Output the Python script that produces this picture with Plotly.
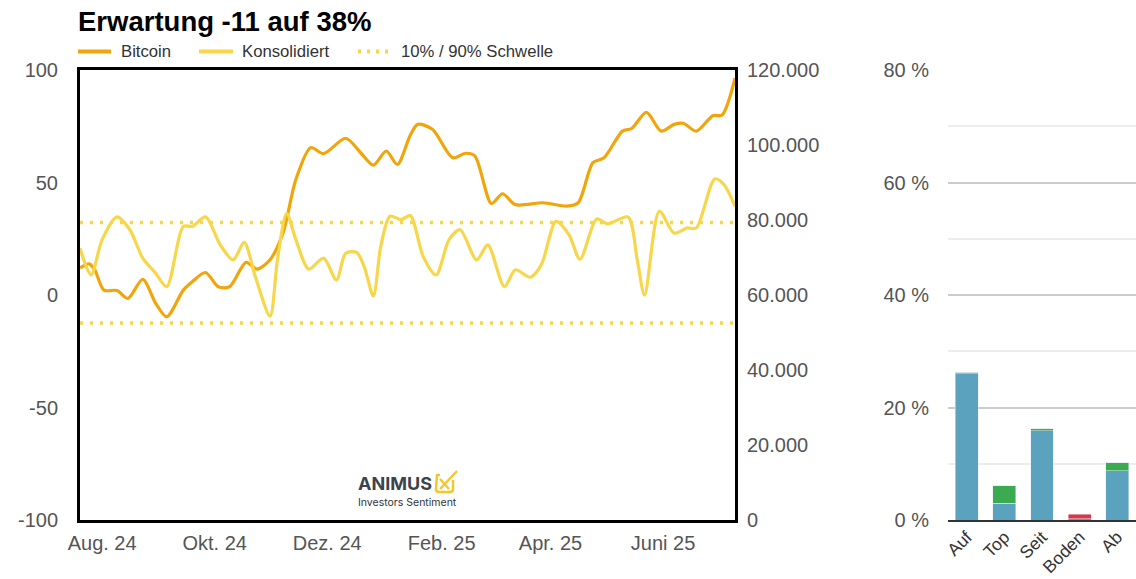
import plotly.graph_objects as go

# --- Daten -----------------------------------------------------------------
btc_dates = [
    "2024-07-20", "2024-07-25", "2024-07-28", "2024-08-02", "2024-08-09",
    "2024-08-15", "2024-08-23", "2024-08-30", "2024-09-05", "2024-09-14",
    "2024-09-19", "2024-09-26", "2024-10-03", "2024-10-09", "2024-10-18",
    "2024-10-24", "2024-10-31", "2024-11-07", "2024-11-14", "2024-11-22",
    "2024-11-29", "2024-12-11", "2024-12-19", "2024-12-26", "2025-01-02",
    "2025-01-08", "2025-01-15", "2025-01-19", "2025-01-27", "2025-02-07",
    "2025-02-14", "2025-02-19", "2025-02-28", "2025-03-06", "2025-03-13",
    "2025-03-28", "2025-04-10", "2025-04-16", "2025-04-24", "2025-04-30",
    "2025-05-10", "2025-05-15", "2025-05-23", "2025-05-31", "2025-06-07",
    "2025-06-12", "2025-06-19", "2025-06-28", "2025-07-03", "2025-07-10",
]
btc_price = [
    67200, 68300, 66700, 61300, 61200,
    59100, 64200, 57800, 54200, 61300,
    63600, 66000, 62200, 62200, 68700,
    66900, 69400, 76500, 90800, 99300,
    97700, 101800, 98000, 94600, 98400,
    94800, 102600, 105500, 104200, 96600,
    97800, 97100, 84400, 87000, 84100,
    84600, 83700, 84600, 95300, 96600,
    103700, 104400, 108700, 103700, 105500,
    105800, 103700, 107800, 108000, 117800,
]

sent_dates = [
    "2024-07-20", "2024-07-26", "2024-08-01", "2024-08-09", "2024-08-16",
    "2024-08-23", "2024-08-30", "2024-09-05", "2024-09-14", "2024-09-19",
    "2024-09-26", "2024-10-04", "2024-10-11", "2024-10-17", "2024-10-23",
    "2024-10-31", "2024-11-04", "2024-11-09", "2024-11-14", "2024-11-21",
    "2024-11-29", "2024-12-06", "2024-12-11", "2024-12-17", "2024-12-21",
    "2024-12-26", "2024-12-30", "2025-01-04", "2025-01-10", "2025-01-15",
    "2025-01-22", "2025-01-29", "2025-02-05", "2025-02-11", "2025-02-20",
    "2025-02-26", "2025-03-07", "2025-03-13", "2025-03-21", "2025-03-27",
    "2025-04-04", "2025-04-11", "2025-04-17", "2025-04-26", "2025-05-02",
    "2025-05-13", "2025-05-18", "2025-05-22", "2025-05-30", "2025-06-07",
    "2025-06-14", "2025-06-19", "2025-06-29", "2025-07-04", "2025-07-10",
]
sent_value = [
    20.8, 8.9, 24.6, 34.7, 29.0,
    16.4, 9.7, 3.7, 30.5, 30.5,
    34.7, 22.3, 15.6, 23.4, 8.2,
    -9.4, 15.6, 36.2, 24.6, 11.5,
    16.4, 6.7, 18.6, 18.9, 12.6,
    -0.4, 21.6, 35.0, 33.5, 35.3,
    17.1, 8.9, 24.6, 29.0, 15.6,
    22.3, 3.7, 11.2, 7.9, 13.4,
    32.7, 26.8, 15.9, 33.8, 31.6,
    34.7, 15.6, 0.0, 37.2, 27.5,
    29.8, 29.8, 51.6, 49.1, 39.4,
]

threshold_upper = 32.2
threshold_lower = -12.4

month_ticks = ["2024-08-01", "2024-10-01", "2024-12-01",
               "2025-02-01", "2025-04-01", "2025-06-01"]
month_labels = ["Aug. 24", "Okt. 24", "Dez. 24", "Feb. 25", "Apr. 25", "Juni 25"]

sent_ticks = [-100, -50, 0, 50, 100]
price_ticks = [0, 20000, 40000, 60000, 80000, 100000, 120000]
price_labels = ["0", "20.000", "40.000", "60.000", "80.000", "100.000", "120.000"]

phases = ["Auf", "Top", "Seit", "Boden", "Ab"]
phase_base = [26.0, 3.0, 15.9, 0.2, 8.75]
phase_plus = [0.3, 3.1, 0.35, 0.0, 1.45]
phase_minus = [0.0, 0.0, 0.0, 0.85, 0.0]
pct_ticks = [0, 20, 40, 60, 80]

# --- Farben / Layout ----------------------------------------------------------
C_BTC = "#F2A50A"
C_SENT = "#F7D64A"
C_BLUE = "#5BA2BF"
C_GREEN = "#3BAA50"
C_RED = "#DC3545"
FONT = "Liberation Sans, Arial, sans-serif"
TICK_C = "#555555"

W, H = 1136, 579
ML, MR, MT, MB = 80, 0, 70, 59
PW = W - ML - MR
PH = H - MT - MB


def px(x):
    return (x - ML) / PW


def py(y):
    return (H - MB - y) / PH


fig = go.Figure()

# Bitcoin-Kurs (rechte Achse)
fig.add_trace(go.Scatter(
    x=btc_dates, y=btc_price, name="Bitcoin", mode="lines",
    line=dict(color=C_BTC, width=3.2, shape="spline", smoothing=0.8),
    xaxis="x", yaxis="y", showlegend=False,
))

# Schwellen
for lvl in (threshold_upper, threshold_lower):
    fig.add_trace(go.Scatter(
        x=[sent_dates[0], sent_dates[-1]], y=[lvl, lvl], mode="lines",
        line=dict(color=C_SENT, width=3.5, dash="3px,7px"),
        xaxis="x", yaxis="y2", showlegend=False,
    ))

# Konsolidiertes Sentiment (linke Achse)
fig.add_trace(go.Scatter(
    x=sent_dates, y=sent_value, name="Konsolidiert", mode="lines",
    line=dict(color=C_SENT, width=3.2, shape="spline", smoothing=0.8),
    xaxis="x", yaxis="y2", showlegend=False,
))

# Marktphasen
fig.add_trace(go.Bar(x=phases, y=phase_base, marker_color=C_BLUE,
                     xaxis="x2", yaxis="y3", showlegend=False))
fig.add_trace(go.Bar(x=phases, y=phase_plus, marker_color=C_GREEN,
                     xaxis="x2", yaxis="y3", showlegend=False))
fig.add_trace(go.Bar(x=phases, y=phase_minus, marker_color=C_RED,
                     xaxis="x2", yaxis="y3", showlegend=False))

tickfont = dict(family=FONT, size=20, color=TICK_C)

fig.update_layout(
    width=W, height=H,
    margin=dict(l=ML, r=MR, t=MT, b=MB),
    paper_bgcolor="white", plot_bgcolor="white",
    barmode="stack", bargap=0.39,
    font=dict(family=FONT),
    xaxis=dict(
        domain=[0, px(735)], type="date", automargin=False,
        range=[sent_dates[0], sent_dates[-1]],
        tickvals=month_ticks, ticktext=month_labels,
        tickfont=tickfont, ticks="", ticklabelstandoff=3,
        showgrid=False, zeroline=False,
        showline=True, mirror=True, linecolor="#000", linewidth=3,
    ),
    yaxis=dict(
        side="right", range=[0, 120000], automargin=False,
        tickvals=price_ticks, ticktext=price_labels,
        tickfont=tickfont, ticks="", ticklabelstandoff=5,
        showgrid=False, zeroline=False,
        showline=True, mirror=True, linecolor="#000", linewidth=3,
    ),
    yaxis2=dict(
        overlaying="y", side="left", range=[-100, 100], automargin=False,
        tickvals=sent_ticks, ticktext=[str(v) for v in sent_ticks],
        tickfont=tickfont, ticks="", ticklabelstandoff=21,
        showgrid=False, zeroline=False, showline=False,
    ),
    xaxis2=dict(
        domain=[px(948), 1], anchor="y3", automargin=False,
        tickfont=dict(family=FONT, size=17.5, color="#333"),
        tickangle=-45, ticks="", ticklabelstandoff=-2,
        showgrid=False, zeroline=False,
        showline=True, linecolor="#333", linewidth=2,
    ),
    yaxis3=dict(
        anchor="x2", range=[0, 80], automargin=False,
        tickvals=pct_ticks, ticktext=[f"{v} %" for v in pct_ticks],
        tickfont=tickfont, ticks="", ticklabelstandoff=18,
        showgrid=True, gridcolor="#cccccc", gridwidth=2,
        minor=dict(tickvals=[10, 30, 50, 70], showgrid=True,
                   gridcolor="#ededed", gridwidth=2),
        zeroline=False, showline=False,
    ),
)

annotations = []
shapes = []

# Titel
annotations.append(dict(
    xref="paper", yref="paper", x=px(76), y=py(22),
    xanchor="left", yanchor="middle", showarrow=False,
    text="<b>Erwartung -11 auf 38%</b>",
    font=dict(family=FONT, size=27.5, color="#000"),
))

# Legende
legend_items = [
    ("Bitcoin", C_BTC, None, 78, 111, 119),
    ("Konsolidiert", C_SENT, None, 199, 233, 240),
    ("10% / 90% Schwelle", C_SENT, "3px,6px", 358, 393, 399),
]
for label, col, dash, x0, x1, xt in legend_items:
    shapes.append(dict(
        type="line", xref="paper", yref="paper",
        x0=px(x0), x1=px(x1), y0=py(51.5), y1=py(51.5),
        line=dict(color=col, width=3.8, dash=dash or "solid"),
    ))
    annotations.append(dict(
        xref="paper", yref="paper", x=px(xt), y=py(51.5),
        xanchor="left", yanchor="middle", showarrow=False,
        text=label, font=dict(family=FONT, size=16.7, color="#333"),
    ))

# Logo
annotations.append(dict(
    xref="paper", yref="paper", x=px(395), y=py(483),
    xanchor="center", yanchor="middle", showarrow=False,
    text="<b>ANIMUS</b>",
    font=dict(family="Inter", size=18, color="#3c434c"),
))
annotations.append(dict(
    xref="paper", yref="paper", x=px(407), y=py(502),
    xanchor="center", yanchor="middle", showarrow=False,
    text="Investors Sentiment",
    font=dict(family="Inter", size=10.5, color="#2e3238"),
))
L, T, R, B = 436, 475, 453, 492
shapes.append(dict(
    type="path", xref="paper", yref="paper",
    path=(f"M {px(L+4)},{py(T)} L {px(L+1)},{py(T)} "
          f"L {px(L)},{py(B-3)} Q {px(L)},{py(B)} {px(L+3)},{py(B)} "
          f"L {px(R-3)},{py(B)} Q {px(R)},{py(B)} {px(R)},{py(B-3)} "
          f"L {px(R)},{py(T+5)}"),
    line=dict(color="#F5C62A", width=2.5),
))
shapes.append(dict(type="line", xref="paper", yref="paper",
                   x0=px(440), y0=py(479), x1=px(449), y1=py(489),
                   line=dict(color="#F5C62A", width=2.5)))
shapes.append(dict(type="line", xref="paper", yref="paper",
                   x0=px(440), y0=py(489), x1=px(457), y1=py(471),
                   line=dict(color="#F5C62A", width=2.5)))

fig.update_layout(annotations=annotations, shapes=shapes)

fig.write_html("out.html")
